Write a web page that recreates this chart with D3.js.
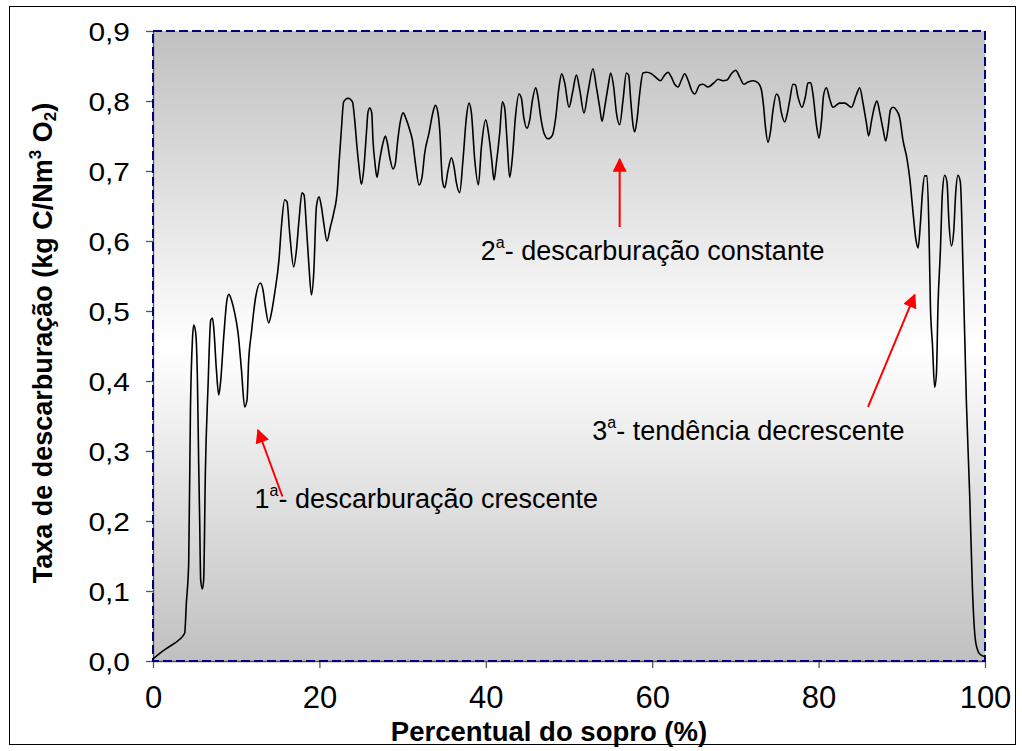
<!DOCTYPE html>
<html>
<head>
<meta charset="utf-8">
<script src="https://cdn.jsdelivr.net/npm/d3@7"></script>
<style>
  body { margin: 0; background: #fff; }
  svg { display: block; font-family: Arial, "Liberation Sans", sans-serif; }
</style>
</head>
<body>
<svg width="1022" height="751"></svg>
<script>
// percentual do sopro (%)
const sopro = [0,0.81,2.0,3.21,3.81,4.01,4.29,4.5,4.74,4.89,5.13,5.34,5.49,5.61,5.73,5.94,6.09,6.3,6.61,6.94,
  7.14,7.3,7.62,7.9,8.14,8.5,8.89,9.13,9.42,9.82,10.22,10.63,11.02,11.3,11.5,11.83,12.34,12.91,13.22,13.51,
  13.91,14.23,14.63,15.14,15.43,15.83,16.11,16.43,16.91,17.24,17.55,17.91,18.15,18.44,18.75,19.04,19.32,19.64,19.95,20.24,
  20.52,20.91,21.32,21.72,22.16,22.36,22.64,22.92,23.44,23.97,24.24,24.52,24.76,25.05,25.32,25.65,25.84,26.05,26.29,26.44,
  26.68,26.92,27.25,27.64,27.93,28.17,28.45,28.85,29.13,29.38,29.77,30.05,30.46,30.85,31.18,31.54,31.97,32.33,32.66,33.17,
  33.65,33.94,34.25,34.46,34.78,35.06,35.46,35.87,36.18,36.47,36.86,37.26,37.67,37.98,38.27,38.67,39.11,39.47,39.99,40.38,
  40.71,40.99,41.27,41.67,41.99,42.27,42.55,42.87,43.2,43.56,43.99,44.28,44.56,44.95,45.28,45.6,46.0,46.27,46.6,47.0,
  47.48,48.0,48.4,48.8,49.12,49.48,50.0,50.41,50.89,51.29,51.8,52.28,52.88,53.29,53.69,53.97,54.29,54.69,55.01,55.37,
  55.7,56.09,56.49,56.9,57.17,57.42,57.69,57.9,58.17,58.5,58.89,59.3,59.9,60.5,60.98,61.5,61.9,62.31,62.7,63.1,
  63.51,63.91,64.3,64.71,65.11,65.71,66.11,66.71,67.51,67.91,68.51,68.99,69.52,70.04,70.52,71.0,71.51,72.12,72.72,73.12,
  73.4,73.61,73.92,74.21,74.52,74.93,75.2,75.53,75.93,76.25,76.53,76.92,77.21,77.52,78.0,78.41,78.73,79.05,79.33,79.74,
  80.05,80.34,80.61,80.94,81.33,81.73,82.54,83.14,83.94,84.54,84.94,85.34,85.74,86.02,86.35,86.74,87.02,87.34,87.74,88.07,
  88.34,88.63,88.94,89.35,89.75,90.14,90.63,90.95,91.35,91.67,91.95,92.24,92.48,92.75,93.03,93.27,93.44,93.68,93.95,94.16,
  94.35,94.64,94.88,95.16,95.43,95.67,95.96,96.24,96.48,96.75,97.04,97.36,97.76,98.16,98.49,98.88,99.36,100];

// taxa de descarburação (kg C/Nm3 O2)
const taxa = [0.003,0.011,0.021,0.031,0.040,0.083,0.14,0.359,0.459,0.48,0.469,0.401,0.283,0.201,0.116,0.103,0.116,0.273,0.391,0.487,
  0.49,0.476,0.416,0.38,0.401,0.463,0.516,0.524,0.516,0.497,0.469,0.416,0.363,0.373,0.43,0.469,0.52,0.54,0.53,0.506,
  0.483,0.497,0.526,0.573,0.62,0.659,0.656,0.611,0.563,0.587,0.63,0.669,0.666,0.62,0.563,0.523,0.554,0.649,0.663,0.649,
  0.626,0.6,0.62,0.64,0.673,0.711,0.759,0.799,0.804,0.799,0.773,0.734,0.706,0.681,0.701,0.754,0.784,0.79,0.783,0.744,
  0.711,0.691,0.716,0.74,0.75,0.74,0.72,0.703,0.711,0.74,0.773,0.783,0.773,0.759,0.744,0.711,0.68,0.691,0.726,0.754,
  0.784,0.794,0.783,0.759,0.687,0.676,0.701,0.719,0.706,0.683,0.669,0.716,0.777,0.797,0.783,0.716,0.68,0.734,0.773,0.749,
  0.716,0.687,0.711,0.754,0.799,0.79,0.744,0.691,0.72,0.777,0.81,0.804,0.777,0.761,0.773,0.801,0.819,0.806,0.777,0.754,
  0.746,0.751,0.776,0.82,0.839,0.826,0.791,0.811,0.837,0.816,0.783,0.813,0.846,0.82,0.791,0.771,0.791,0.82,0.84,0.82,
  0.783,0.766,0.801,0.84,0.837,0.801,0.766,0.756,0.773,0.811,0.84,0.841,0.839,0.833,0.829,0.837,0.841,0.834,0.824,0.82,
  0.83,0.839,0.83,0.816,0.81,0.823,0.824,0.82,0.827,0.831,0.829,0.83,0.839,0.844,0.834,0.824,0.827,0.829,0.826,0.816,
  0.791,0.763,0.741,0.756,0.787,0.81,0.806,0.783,0.77,0.783,0.801,0.824,0.823,0.806,0.791,0.806,0.826,0.826,0.809,0.766,
  0.747,0.771,0.809,0.819,0.803,0.791,0.797,0.797,0.791,0.809,0.819,0.797,0.769,0.75,0.771,0.793,0.8,0.784,0.76,0.743,
  0.76,0.787,0.791,0.787,0.776,0.744,0.717,0.69,0.641,0.604,0.59,0.626,0.669,0.693,0.693,0.614,0.507,0.453,0.391,0.41,
  0.507,0.587,0.669,0.694,0.684,0.626,0.593,0.614,0.669,0.694,0.684,0.56,0.371,0.237,0.103,0.027,0.01,0.006];

const xTicks = [0, 20, 40, 60, 80, 100];
const yTicks = [0, 0.1, 0.2, 0.3, 0.4, 0.5, 0.6, 0.7, 0.8, 0.9];

// fases: texto, posição do texto, cauda e ponta da seta (em unidades dos eixos)
const faseNum = ["1", "2", "3"];
const faseTexto = ["- descarburação crescente", "- descarburação constante", "- tendência decrescente"];
const faseTextoPos = [[12.2, 0.219], [39.4, 0.573], [52.8, 0.316]];
const faseSetaDe = [[15.55, 0.235], [56.09, 0.62], [85.94, 0.363]];
const faseSetaAte = [[12.62, 0.33], [56.09, 0.717], [91.55, 0.523]];

const area = { left: 153, right: 985, top: 31, bottom: 661 };
const ptFormat = (d) => d3.format(".1f")(d).replace(".", ",");
const narrow = "'Liberation Sans Narrow', 'Arial Narrow', Arial, sans-serif";

function drawChart() {
  const svg = d3.select("svg");

  // moldura externa
  svg.append("rect")
    .attr("x", 9.5).attr("y", 6.5)
    .attr("width", 1006).attr("height", 738)
    .attr("fill", "#fff")
    .attr("stroke", "#000")
    .attr("stroke-width", 1);

  const defs = svg.append("defs");
  const grad = defs.append("linearGradient")
    .attr("id", "fundo")
    .attr("x1", 0).attr("y1", 0).attr("x2", 0).attr("y2", 1);
  grad.append("stop").attr("offset", "0%").attr("stop-color", "#c0c0c0");
  grad.append("stop").attr("offset", "50%").attr("stop-color", "#ffffff");
  grad.append("stop").attr("offset", "100%").attr("stop-color", "#c0c0c0");

  defs.append("marker")
    .attr("id", "ponta")
    .attr("viewBox", "0 0 10 10")
    .attr("refX", 9).attr("refY", 5)
    .attr("markerUnits", "userSpaceOnUse")
    .attr("markerWidth", 15).attr("markerHeight", 14)
    .attr("orient", "auto")
    .append("path")
    .attr("d", "M0,0 L10,5 L0,10 Z")
    .attr("fill", "#ff0000");

  const scX = d3.scaleLinear().domain([0, 100]).range([area.left, area.right]);
  const scY = d3.scaleLinear().domain([0, 0.9]).range([area.bottom, area.top]);

  svg.append("rect")
    .attr("x", area.left).attr("y", area.top)
    .attr("width", area.right - area.left)
    .attr("height", area.bottom - area.top)
    .attr("fill", "url(#fundo)");

  // eixos
  const axisY = svg.append("g")
    .attr("transform", `translate(${area.left},0)`)
    .call(d3.axisLeft(scY).tickValues(yTicks).tickFormat(ptFormat).tickSize(7).tickSizeOuter(0));
  axisY.selectAll("text")
    .attr("x", -20)
    .attr("dy", "0.35em")
    .attr("transform", "scale(1.15,1)")
    .style("font-size", "26px")
    .style("fill", "#000");

  const axisX = svg.append("g")
    .attr("transform", `translate(0,${area.bottom})`)
    .call(d3.axisBottom(scX).tickValues(xTicks).tickFormat(d3.format("d")).tickSize(7).tickSizeOuter(0));
  axisX.selectAll("text")
    .attr("y", 25)
    .style("font-size", "31px")
    .style("font-family", narrow)
    .style("fill", "#000");

  svg.selectAll(".domain, .tick line").attr("stroke", "#555").attr("stroke-width", 1.3);

  // borda tracejada da área de plotagem
  svg.append("rect")
    .attr("x", area.left).attr("y", area.top)
    .attr("width", area.right - area.left)
    .attr("height", area.bottom - area.top)
    .attr("fill", "none")
    .attr("stroke", "#000080")
    .attr("stroke-width", 2)
    .attr("stroke-dasharray", "9,4");

  // curva
  const line = d3.line()
    .curve(d3.curveMonotoneX)
    .x((d) => scX(d[0]))
    .y((d) => scY(d[1]));

  svg.append("path")
    .datum(d3.zip(sopro, taxa))
    .attr("d", line)
    .attr("fill", "none")
    .attr("stroke", "#000")
    .attr("stroke-width", 1.6)
    .attr("stroke-linejoin", "round");

  // setas e textos das fases
  faseNum.forEach((n, i) => {
    svg.append("line")
      .attr("x1", scX(faseSetaDe[i][0])).attr("y1", scY(faseSetaDe[i][1]))
      .attr("x2", scX(faseSetaAte[i][0])).attr("y2", scY(faseSetaAte[i][1]))
      .attr("stroke", "#ff0000")
      .attr("stroke-width", 2)
      .attr("marker-end", "url(#ponta)");

    const t = svg.append("text")
      .attr("x", scX(faseTextoPos[i][0]))
      .attr("y", scY(faseTextoPos[i][1]))
      .style("font-size", "27px")
      .style("fill", "#000");
    t.append("tspan").text(n);
    t.append("tspan").attr("dy", -12).style("font-size", "16px").text("a");
    t.append("tspan").attr("dy", 12).text(faseTexto[i]);
  });

  // títulos dos eixos
  svg.append("text")
    .attr("x", 549)
    .attr("y", 741)
    .attr("text-anchor", "middle")
    .style("font-size", "27.5px")
    .style("font-weight", "bold")
    .style("font-family", narrow)
    .text("Percentual do sopro (%)");

  const ty = svg.append("text")
    .attr("transform", "translate(52,343) rotate(-90)")
    .attr("text-anchor", "middle")
    .style("font-size", "27px")
    .style("font-weight", "bold");
  ty.append("tspan").text("Taxa de descarburação (kg C/Nm");
  ty.append("tspan").attr("dy", -11).style("font-size", "17px").text("3");
  ty.append("tspan").attr("dy", 11).text(" O");
  ty.append("tspan").attr("dy", 4).style("font-size", "17px").text("2");
  ty.append("tspan").attr("dy", -4).text(")");
}

drawChart();
</script>
</body>
</html>
